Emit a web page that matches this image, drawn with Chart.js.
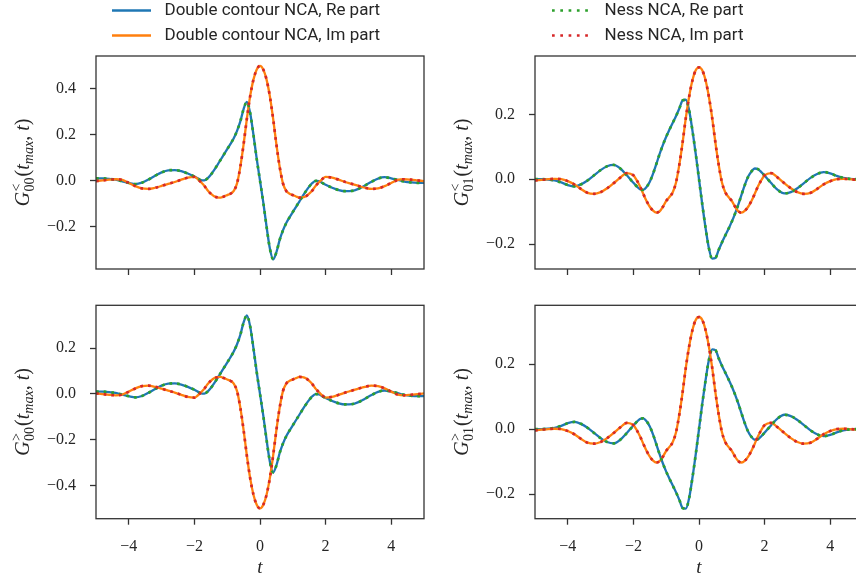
<!DOCTYPE html>
<html><head><meta charset="utf-8">
<script src="https://cdn.jsdelivr.net/npm/chart.js@4.4.1/dist/chart.umd.min.js"></script>
<style>
html,body{margin:0;padding:0;background:#fff;}
body{width:856px;height:579px;position:relative;overflow:hidden;}
canvas{position:absolute;}
</style></head><body>
<canvas id="pLess00" width="430" height="250" style="left:0px;top:40px"></canvas>
<canvas id="pLess01" width="430" height="250" style="left:439px;top:40px"></canvas>
<canvas id="pGreater00" width="430" height="289" style="left:0px;top:290px"></canvas>
<canvas id="pGreater01" width="430" height="289" style="left:439px;top:290px"></canvas>
<canvas id="legA" width="300" height="130" style="left:104px;top:-6.5px"></canvas>
<canvas id="legB" width="300" height="130" style="left:543.7px;top:-6.5px"></canvas>
<script>
// ---------------- data ----------------
const tValues = [-5.0,-4.8,-4.6,-4.4,-4.2,-4.0,-3.8,-3.6,-3.4,-3.2,-3.0,-2.8,-2.6,-2.4,-2.2,
  -2.0,-1.9,-1.8,-1.7,-1.6,-1.5,-1.4,-1.3,-1.2,-1.1,-1.0,-0.9,-0.8,-0.7,-0.6,-0.5,-0.4,-0.3,-0.2,-0.1,
  0.0,0.1,0.2,0.3,0.4,0.5,0.6,0.7,0.8,0.9,1.0,1.1,1.2,1.3,1.4,1.5,1.6,1.7,1.8,1.9,2.0,
  2.2,2.4,2.6,2.8,3.0,3.2,3.4,3.6,3.8,4.0,4.2,4.4,4.6,4.8,5.0];

// G^<_00 real / imaginary part
const reLess00 = [0.010,0.010,0.008,0.004,-0.003,-0.010,-0.015,-0.009,0.005,0.021,0.036,0.045,0.046,0.041,0.031,
  0.018,0.010,0.002,0.001,0.010,0.026,0.046,0.068,0.091,0.114,0.137,0.160,0.185,0.217,0.258,0.312,0.343,0.295,0.200,0.095,
  0.000,-0.095,-0.200,-0.295,-0.343,-0.312,-0.258,-0.217,-0.185,-0.160,-0.137,-0.114,-0.091,-0.068,-0.046,-0.026,-0.010,-0.001,-0.002,-0.010,-0.018,
  -0.031,-0.041,-0.046,-0.045,-0.036,-0.021,-0.005,0.009,0.015,0.010,0.003,-0.004,-0.008,-0.010,-0.010];
const imLess00 = [-0.002,0.001,0.004,0.006,0.003,-0.010,-0.024,-0.034,-0.036,-0.031,-0.023,-0.014,-0.006,0.004,0.013,
  0.016,0.007,-0.007,-0.022,-0.042,-0.057,-0.068,-0.073,-0.074,-0.069,-0.063,-0.057,-0.045,-0.012,0.060,0.158,0.270,0.368,0.440,0.484,
  0.500,0.484,0.440,0.368,0.270,0.158,0.060,-0.012,-0.045,-0.057,-0.063,-0.069,-0.074,-0.073,-0.068,-0.057,-0.042,-0.022,-0.007,0.007,0.016,
  0.013,0.004,-0.006,-0.014,-0.023,-0.031,-0.036,-0.034,-0.024,-0.010,0.003,0.006,0.004,0.001,-0.002];

// G^<_01 real / imaginary part
const reLess01 = [0.000,0.000,-0.001,-0.004,-0.010,-0.018,-0.022,-0.016,-0.004,0.012,0.028,0.040,0.044,0.033,0.012,
  -0.011,-0.022,-0.031,-0.033,-0.024,-0.008,0.017,0.047,0.078,0.106,0.131,0.153,0.174,0.195,0.218,0.243,0.245,0.212,0.150,0.078,
  0.000,-0.078,-0.150,-0.212,-0.245,-0.243,-0.218,-0.195,-0.174,-0.153,-0.131,-0.106,-0.078,-0.047,-0.017,0.008,0.024,0.033,0.031,0.022,0.011,
  -0.012,-0.033,-0.044,-0.040,-0.028,-0.012,0.004,0.016,0.022,0.018,0.010,0.004,0.001,0.000,0.000];
const imLess01 = [-0.004,-0.002,0.000,0.001,0.000,-0.006,-0.016,-0.030,-0.042,-0.045,-0.040,-0.028,-0.012,0.005,0.019,
  0.012,-0.003,-0.022,-0.045,-0.067,-0.085,-0.097,-0.103,-0.099,-0.085,-0.067,-0.055,-0.040,-0.010,0.045,0.113,0.190,0.255,0.305,0.336,
  0.345,0.336,0.305,0.255,0.190,0.113,0.045,-0.010,-0.040,-0.055,-0.067,-0.085,-0.099,-0.103,-0.097,-0.085,-0.067,-0.045,-0.022,-0.003,0.012,
  0.019,0.005,-0.012,-0.028,-0.040,-0.045,-0.042,-0.030,-0.016,-0.006,0.000,0.001,0.000,-0.002,-0.004];

// G^>_00 real / imaginary part
const reGreater00 = [0.010,0.010,0.008,0.004,-0.003,-0.010,-0.015,-0.009,0.005,0.021,0.036,0.045,0.046,0.041,0.031,
  0.018,0.010,0.002,0.001,0.010,0.026,0.046,0.068,0.091,0.114,0.137,0.160,0.185,0.217,0.258,0.312,0.343,0.295,0.200,0.095,
  0.000,-0.095,-0.200,-0.295,-0.343,-0.312,-0.258,-0.217,-0.185,-0.160,-0.137,-0.114,-0.091,-0.068,-0.046,-0.026,-0.010,-0.001,-0.002,-0.010,-0.018,
  -0.031,-0.041,-0.046,-0.045,-0.036,-0.021,-0.005,0.009,0.015,0.010,0.003,-0.004,-0.008,-0.010,-0.010];
const imGreater00 = [0.002,-0.001,-0.004,-0.006,-0.003,0.010,0.024,0.034,0.036,0.031,0.023,0.014,0.006,-0.004,-0.013,
  -0.016,-0.007,0.007,0.022,0.042,0.057,0.068,0.073,0.074,0.069,0.063,0.057,0.045,0.012,-0.060,-0.158,-0.270,-0.368,-0.440,-0.484,
  -0.500,-0.484,-0.440,-0.368,-0.270,-0.158,-0.060,0.012,0.045,0.057,0.063,0.069,0.074,0.073,0.068,0.057,0.042,0.022,0.007,-0.007,-0.016,
  -0.013,-0.004,0.006,0.014,0.023,0.031,0.036,0.034,0.024,0.010,-0.003,-0.006,-0.004,-0.001,0.002];

// G^>_01 real / imaginary part
const reGreater01 = [0.000,0.000,0.001,0.004,0.010,0.018,0.022,0.016,0.004,-0.012,-0.028,-0.040,-0.044,-0.033,-0.012,
  0.011,0.022,0.031,0.033,0.024,0.008,-0.017,-0.047,-0.078,-0.106,-0.131,-0.153,-0.174,-0.195,-0.218,-0.243,-0.245,-0.212,-0.150,-0.078,
  0.000,0.078,0.150,0.212,0.245,0.243,0.218,0.195,0.174,0.153,0.131,0.106,0.078,0.047,0.017,-0.008,-0.024,-0.033,-0.031,-0.022,-0.011,
  0.012,0.033,0.044,0.040,0.028,0.012,-0.004,-0.016,-0.022,-0.018,-0.010,-0.004,-0.001,0.000,0.000];
const imGreater01 = [-0.004,-0.002,0.000,0.001,0.000,-0.006,-0.016,-0.030,-0.042,-0.045,-0.040,-0.028,-0.012,0.005,0.019,
  0.012,-0.003,-0.022,-0.045,-0.067,-0.085,-0.097,-0.103,-0.099,-0.085,-0.067,-0.055,-0.040,-0.010,0.045,0.113,0.190,0.255,0.305,0.336,
  0.345,0.336,0.305,0.255,0.190,0.113,0.045,-0.010,-0.040,-0.055,-0.067,-0.085,-0.099,-0.103,-0.097,-0.085,-0.067,-0.045,-0.022,-0.003,0.012,
  0.019,0.005,-0.012,-0.028,-0.040,-0.045,-0.042,-0.030,-0.016,-0.006,0.000,0.001,0.000,-0.002,-0.004];

const seriesNames = ['Double contour NCA, Re part', 'Double contour NCA, Im part', 'Ness NCA, Re part', 'Ness NCA, Im part'];
const xTicks = [-4, -2, 0, 2, 4];
const yTicksLess00 = [-0.2, 0.0, 0.2, 0.4];
const yTicksLess01 = [-0.2, 0.0, 0.2];
const yTicksGreater00 = [-0.4, -0.2, 0.0, 0.2];
const yTicksGreater01 = [-0.2, 0.0, 0.2];

// ---------------- styles ----------------
const INK = '#262626';
const FRAME = '#333333';
const SERIF = '"Liberation Serif", "DejaVu Serif", serif';
const DOT = [2.7, 5.0];
const styles = [
  {borderColor:'#1f77b4', borderWidth:2.3, borderDash:[], order:4, legendDash:[39, 20]},
  {borderColor:'#ff7f0e', borderWidth:2.3, borderDash:[], order:3, legendDash:[39, 20]},
  {borderColor:'#2ca02c', borderWidth:2.7, borderDash:DOT, order:2, legendDash:[2.7,5.6,2.7,5.6,2.7,5.6,2.7,5.6,2.7,20]},
  {borderColor:'#d62728', borderWidth:2.7, borderDash:DOT, order:1, legendDash:[2.7,5.6,2.7,5.6,2.7,5.6,2.7,5.6,2.7,20]}
];

function toPoints(arr){ return tValues.map((t,i)=>({x:t, y:arr[i]})); }
function fmtMinus(s){ return s.replace('-', '\u2212'); }

const framePlugin = {
  id:'frame',
  afterDatasetsDraw(chart){
    const a = chart.chartArea, ctx = chart.ctx;
    if (!a) return;
    ctx.save();
    ctx.strokeStyle = FRAME; ctx.lineWidth = 1.3;
    ctx.strokeRect(a.left, a.top, a.right - a.left, a.bottom - a.top);
    ctx.restore();
  }
};

const yLabelPlugin = {
  id:'ylab',
  afterDraw(chart, args, o){
    if (!o || !o.sub) return;
    const ctx = chart.ctx, a = chart.chartArea;
    const big = '20px ' + SERIF, bigI = 'italic 20px ' + SERIF;
    const sm = '14px ' + SERIF, smI = 'italic 14px ' + SERIF;
    const parts = [
      {t:'G', f:bigI, dy:0},
      {stack:true},
      {t:'(', f:big, dy:0},
      {t:'t', f:bigI, dy:0},
      {t:'max', f:smI, dy:4},
      {t:', ', f:big, dy:0},
      {t:'t', f:bigI, dy:0},
      {t:')', f:big, dy:0}
    ];
    ctx.save();
    let total = 0;
    parts.forEach(p=>{
      if (p.stack){
        ctx.font = sm;
        const w1 = ctx.measureText(o.sup).width, w2 = ctx.measureText(o.sub).width;
        p.w = Math.max(w1, w2) + 1.5;
      } else { ctx.font = p.f; p.w = ctx.measureText(p.t).width; }
      total += p.w;
    });
    const cy = (a.top + a.bottom) / 2;
    ctx.translate(o.x, cy);
    ctx.rotate(-Math.PI/2);
    ctx.fillStyle = INK;
    ctx.textBaseline = 'alphabetic';
    ctx.textAlign = 'left';
    let x = -total/2;
    parts.forEach(p=>{
      if (p.stack){
        ctx.font = sm;
        ctx.fillText(o.sup, x + 0.5, -8);
        ctx.fillText(o.sub, x + 0.5, 5.5);
      } else {
        ctx.font = p.f;
        ctx.fillText(p.t, x, p.dy);
      }
      x += p.w;
    });
    ctx.restore();
  }
};

function makePanel(id, reArr, imArr, yMin, yMax, yTicks, sup, sub, bottomRow){
  const datasets = [reArr, imArr, reArr, imArr].map((arr, i)=>({
    label: seriesNames[i],
    data: toPoints(arr),
    borderColor: styles[i].borderColor,
    borderWidth: styles[i].borderWidth,
    borderDash: styles[i].borderDash,
    order: styles[i].order,
    fill:false, pointRadius:0, pointHoverRadius:0,
    cubicInterpolationMode:'monotone',
    borderCapStyle:'butt', borderJoinStyle:'round'
  }));
  return new Chart(document.getElementById(id), {
    type:'line',
    data:{datasets},
    plugins:[framePlugin, yLabelPlugin],
    options:{
      responsive:false, animation:false, events:[],
      layout:{padding:{top: bottomRow ? 15.3 : 16, left:0, right:6, bottom:0}},
      plugins:{legend:{display:false}, tooltip:{enabled:false},
        ylab:{sup:sup, sub:sub, x:28.5}},
      scales:{
        x:{type:'linear', min:-5, max:5,
          afterBuildTicks:s=>{ s.ticks = xTicks.map(v=>({value:v})); },
          afterFit:s=>{ s.height = bottomRow ? 60.3 : 21; s.paddingLeft = 0; s.paddingRight = 0; },
          ticks:{display:bottomRow, color:INK, padding:12, maxRotation:0, autoSkip:false,
            font:{family:SERIF, size:16},
            callback:v=>fmtMinus(String(v))},
          grid:{display:true, drawOnChartArea:false, drawTicks:true, tickLength:6, tickWidth:1.3, tickColor:FRAME},
          border:{display:false},
          title:{display:bottomRow, text:'t', color:INK, padding:{top:0,bottom:0},
            font:{family:SERIF, size:19, style:'italic', lineHeight:1.2}}
        },
        y:{type:'linear', min:yMin, max:yMax,
          afterBuildTicks:s=>{ s.ticks = yTicks.map(v=>({value:v})); },
          afterFit:s=>{ s.width = 96; s.paddingTop = 0; s.paddingBottom = 0; },
          ticks:{color:INK, padding:14, font:{family:SERIF, size:16},
            callback:v=>fmtMinus(Number(v).toFixed(1))},
          grid:{display:true, drawOnChartArea:false, drawTicks:true, tickLength:6, tickWidth:1.3, tickColor:FRAME},
          border:{display:false},
          title:{display:false}
        }
      }
    }
  });
}

makePanel('pLess00', reLess00, imLess00, -0.385, 0.543, yTicksLess00, '<', '00', false);
makePanel('pLess01', reLess01, imLess01, -0.277, 0.380, yTicksLess01, '<', '01', false);
makePanel('pGreater00', reGreater00, imGreater00, -0.545, 0.387, yTicksGreater00, '>', '00', true);
makePanel('pGreater01', reGreater01, imGreater01, -0.276, 0.381, yTicksGreater01, '>', '01', true);

// ---------------- legend (Chart.js legend, two columns) ----------------
function makeLegend(id, idx){
  const datasets = idx.map(i=>({
    label: seriesNames[i], data: [],
    borderColor: styles[i].borderColor, backgroundColor: styles[i].borderColor,
    borderWidth: 2.4, borderDash: styles[i].legendDash
  }));
  return new Chart(document.getElementById(id), {
    type:'line', data:{datasets},
    options:{responsive:false, animation:false, events:[],
      layout:{padding:0},
      scales:{x:{display:false}, y:{display:false}},
      plugins:{tooltip:{enabled:false},
        legend:{display:true, position:'top', align:'start',
          labels:{usePointStyle:true, pointStyle:'line', pointStyleWidth:44,
            padding:8, color:INK,
            font:{family:'Roboto, "Open Sans", sans-serif', size:17},
            generateLabels:(chart)=>Chart.defaults.plugins.legend.labels.generateLabels(chart).map((item, k)=>{
              const st = styles[idx[item.datasetIndex !== undefined ? item.datasetIndex : k]];
              return Object.assign({}, item, {
                strokeStyle: st.borderColor, fillStyle: st.borderColor,
                lineWidth: 2.4, lineDash: st.legendDash, lineCap:'butt',
                pointStyle:'line', fontColor: INK
              });
            })}}}
    }
  });
}
makeLegend('legA', [0, 1]);
makeLegend('legB', [2, 3]);
</script>
</body></html>
